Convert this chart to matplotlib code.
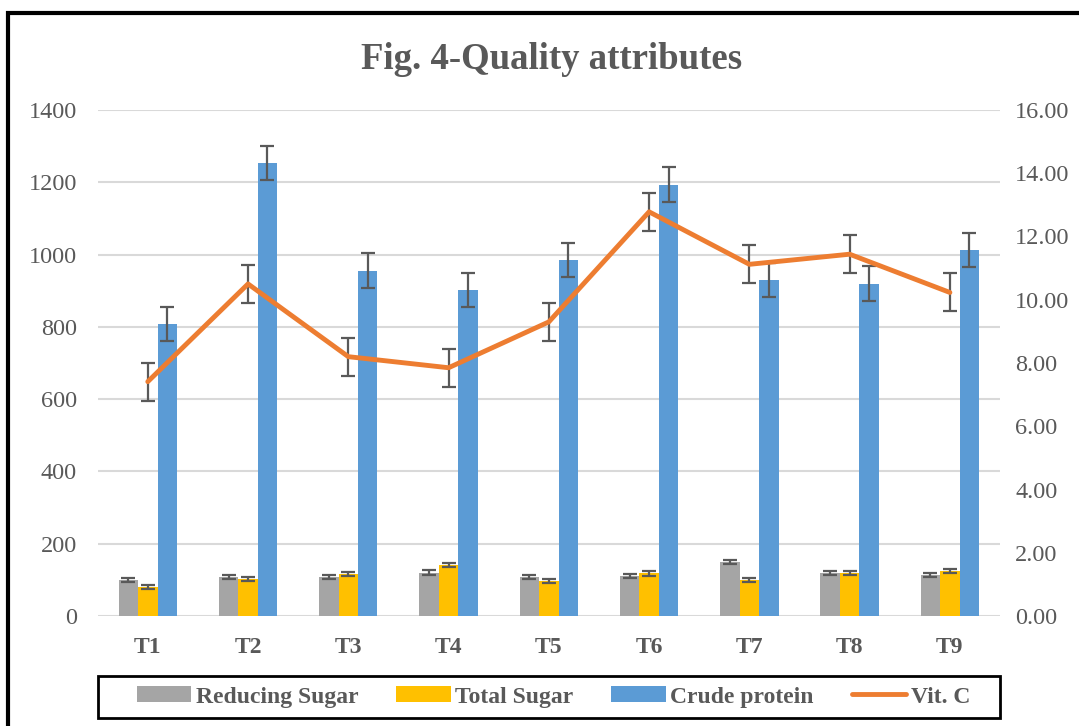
import numpy as np
import matplotlib
matplotlib.use("Agg")
import matplotlib.pyplot as plt
from matplotlib.patches import Rectangle
from matplotlib.lines import Line2D

plt.rcParams['font.family'] = ['Liberation Serif', 'DejaVu Serif']

categories = ['T1', 'T2', 'T3', 'T4', 'T5', 'T6', 'T7', 'T8', 'T9']
reducing_sugar = [99, 108, 108, 120, 108, 111, 149, 119, 113]
total_sugar = [80, 102, 116, 141, 97, 118, 99, 119, 125]
crude_protein = [808, 1253, 955, 902, 985, 1193, 930, 919, 1013]
vit_c = [7.41, 10.50, 8.20, 7.85, 9.30, 12.78, 11.12, 11.44, 10.23]
reducing_err = [6, 6, 6, 6, 6, 6, 6, 6, 6]
total_err = [6, 6, 6, 6, 6, 6, 6, 6, 6]
crude_err = [48, 48, 48, 48, 48, 48, 48, 48, 48]
vitc_err = [0.6, 0.6, 0.6, 0.6, 0.6, 0.6, 0.6, 0.6, 0.6]

txt = '#595959'
fig = plt.figure(figsize=(10.79, 7.26), dpi=100)
ax = fig.add_axes([0.0905, 0.1515, 0.8363, 0.697])

x = np.arange(len(categories))
w = 0.194
ekw = dict(ecolor='#595959', elinewidth=1.6, capsize=4.8, capthick=1.6)
ax.bar(x - w, reducing_sugar, w, color='#A5A5A5', yerr=reducing_err, error_kw=ekw, zorder=3, label='Reducing Sugar')
ax.bar(x, total_sugar, w, color='#FFC000', yerr=total_err, error_kw=ekw, zorder=3, label='Total Sugar')
ax.bar(x + w, crude_protein, w, color='#5B9BD5', yerr=crude_err, error_kw=ekw, zorder=3, label='Crude protein')

ax.set_xlim(-0.5, len(categories) - 0.5)
ax.set_ylim(0, 1400)
ax.set_yticks(range(0, 1401, 200))
ax.grid(axis='y', color='#D9D9D9', linewidth=1.5, zorder=0)
ax.set_axisbelow(True)
for s in ax.spines.values():
    s.set_visible(False)
ax.tick_params(axis='both', length=0, colors=txt)
ax.tick_params(axis='y', labelsize=17.5, pad=15)
ax.set_xticks(x)
ax.set_xticklabels(categories, fontsize=17, fontweight='bold', color=txt)
ax.tick_params(axis='x', pad=15)

ax2 = ax.twinx()
ax2.errorbar(x, vit_c, yerr=vitc_err, color='#ED7D31', linewidth=3.5, ecolor='#595959',
             elinewidth=1.6, capsize=4.8, capthick=1.6, solid_capstyle='round')
ax2.set_ylim(0, 16)
ax2.set_yticks(np.arange(0, 16.01, 2))
ax2.set_yticklabels([f'{v:.2f}' for v in np.arange(0, 16.01, 2)])
for s in ax2.spines.values():
    s.set_visible(False)
ax2.tick_params(axis='y', length=0, colors=txt, labelsize=17.5, pad=11)

fig.text(0.511, 0.918, 'Fig. 4-Quality attributes', ha='center', va='center',
         fontsize=26.5, fontweight='bold', color=txt)

h1, l1 = ax.get_legend_handles_labels()
vit_handle = Line2D([], [], color='#ED7D31', linewidth=3.5, solid_capstyle='round')
leg = fig.legend(h1 + [vit_handle], l1 + ['Vit. C'], loc='center', bbox_to_anchor=(0.513, 0.04), ncol=4,
                 frameon=False, prop={'weight': 'bold', 'size': 17}, labelcolor=txt,
                 handlelength=2.3, handleheight=0.65, handletextpad=0.2, columnspacing=1.6)

fig.patches.append(Rectangle((98 / 1079, 1 - 718 / 726), 902 / 1079, 42 / 726,
                             transform=fig.transFigure, fill=False, edgecolor='black', linewidth=2))
fig.patches.append(Rectangle((8 / 1079, -0.1), 1.2, 1 - 13 / 726 + 0.1,
                             transform=fig.transFigure, fill=False, edgecolor='black', linewidth=3))

fig.savefig('out.png', dpi=100)
